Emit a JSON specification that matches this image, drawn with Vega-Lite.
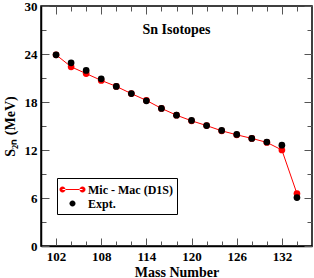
{
  "$schema": "https://vega.github.io/schema/vega-lite/v6.json",
  "width": 271,
  "height": 240,
  "autosize": "none",
  "padding": {"left": 41, "top": 6, "right": 2, "bottom": 32},
  "config": {
    "font": "Liberation Serif",
    "view": {"stroke": "black", "strokeWidth": 1.5},
    "axis": {
      "domainColor": "black",
      "domainWidth": 1.5,
      "tickColor": "#555",
      "tickWidth": 1,
      "grid": false,
      "labelFont": "Liberation Serif",
      "labelFontWeight": "bold",
      "labelFontSize": 13,
      "labelColor": "black",
      "labelFlush": false,
      "labelOverlap": false,
      "titleFont": "Liberation Serif",
      "titleFontWeight": "bold",
      "titleFontSize": 14,
      "titleColor": "black"
    }
  },
  "data": {
    "values": [
      {"A": 102, "S2n": 23.9, "series": "Mic - Mac (D1S)"},
      {"A": 104, "S2n": 22.4, "series": "Mic - Mac (D1S)"},
      {"A": 106, "S2n": 21.55, "series": "Mic - Mac (D1S)"},
      {"A": 108, "S2n": 20.7, "series": "Mic - Mac (D1S)"},
      {"A": 110, "S2n": 19.95, "series": "Mic - Mac (D1S)"},
      {"A": 112, "S2n": 19.05, "series": "Mic - Mac (D1S)"},
      {"A": 114, "S2n": 18.2, "series": "Mic - Mac (D1S)"},
      {"A": 116, "S2n": 17.2, "series": "Mic - Mac (D1S)"},
      {"A": 118, "S2n": 16.35, "series": "Mic - Mac (D1S)"},
      {"A": 120, "S2n": 15.65, "series": "Mic - Mac (D1S)"},
      {"A": 122, "S2n": 15.05, "series": "Mic - Mac (D1S)"},
      {"A": 124, "S2n": 14.4, "series": "Mic - Mac (D1S)"},
      {"A": 126, "S2n": 13.9, "series": "Mic - Mac (D1S)"},
      {"A": 128, "S2n": 13.45, "series": "Mic - Mac (D1S)"},
      {"A": 130, "S2n": 12.95, "series": "Mic - Mac (D1S)"},
      {"A": 132, "S2n": 12.0, "series": "Mic - Mac (D1S)"},
      {"A": 134, "S2n": 6.55, "series": "Mic - Mac (D1S)"},
      {"A": 102, "S2n": 23.9, "series": "Expt."},
      {"A": 104, "S2n": 22.9, "series": "Expt."},
      {"A": 106, "S2n": 21.95, "series": "Expt."},
      {"A": 108, "S2n": 20.9, "series": "Expt."},
      {"A": 110, "S2n": 19.95, "series": "Expt."},
      {"A": 112, "S2n": 19.05, "series": "Expt."},
      {"A": 114, "S2n": 18.15, "series": "Expt."},
      {"A": 116, "S2n": 17.2, "series": "Expt."},
      {"A": 118, "S2n": 16.35, "series": "Expt."},
      {"A": 120, "S2n": 15.7, "series": "Expt."},
      {"A": 122, "S2n": 15.05, "series": "Expt."},
      {"A": 124, "S2n": 14.45, "series": "Expt."},
      {"A": 126, "S2n": 13.95, "series": "Expt."},
      {"A": 128, "S2n": 13.45, "series": "Expt."},
      {"A": 130, "S2n": 13.0, "series": "Expt."},
      {"A": 132, "S2n": 12.6, "series": "Expt."},
      {"A": 134, "S2n": 6.05, "series": "Expt."}
    ]
  },
  "layer": [
    {
      "transform": [{"filter": "datum.series == 'Mic - Mac (D1S)'"}],
      "mark": {"type": "line", "color": "#ff0000", "strokeWidth": 1},
      "encoding": {
        "x": {"field": "A", "type": "quantitative", "scale": {"domain": [100, 136], "nice": false, "zero": false},
          "axis": {"orient": "bottom", "title": "Mass Number", "values": [102,104,106,108,110,112,114,116,118,120,122,124,126,128,130,132,134],
            "labelExpr": "datum.value % 6 == 0 ? datum.label : ''",
            "tickSize": {"condition": {"test": "datum.value % 6 == 0", "value": -8}, "value": -5},
            "labelPadding": 12, "titleBaseline": "alphabetic", "titleY": 30}},
        "y": {"field": "S2n", "type": "quantitative", "scale": {"domain": [0, 30], "nice": false, "zero": false},
          "axis": {"orient": "left", "title": "S₂ₙ (MeV)", "values": [0,3,6,9,12,15,18,21,24,27,30],
            "labelExpr": "datum.value % 6 == 0 ? datum.label : ''",
            "tickSize": {"condition": {"test": "datum.value % 6 == 0", "value": -8}, "value": -5},
            "labelPadding": 12, "titlePadding": 7}}
      }
    },
    {
      "transform": [{"filter": "datum.series == 'Mic - Mac (D1S)'"}],
      "mark": {"type": "point", "filled": true, "color": "#ff0000", "size": 45, "opacity": 1},
      "encoding": {
        "x": {"field": "A", "type": "quantitative",
          "axis": {"orient": "top", "title": null, "labels": false, "domain": false, "values": [102,104,106,108,110,112,114,116,118,120,122,124,126,128,130,132,134],
            "tickSize": {"condition": {"test": "datum.value % 6 == 0", "value": -8}, "value": -5}}},
        "y": {"field": "S2n", "type": "quantitative",
          "axis": {"orient": "right", "title": null, "labels": false, "domain": false, "values": [0,3,6,9,12,15,18,21,24,27,30],
            "tickSize": {"condition": {"test": "datum.value % 6 == 0", "value": -8}, "value": -5}}}
      }
    },
    {
      "transform": [{"filter": "datum.series == 'Expt.'"}],
      "mark": {"type": "point", "filled": true, "color": "black", "size": 45, "opacity": 1},
      "encoding": {
        "x": {"field": "A", "type": "quantitative", "axis": null},
        "y": {"field": "S2n", "type": "quantitative", "axis": null}
      }
    },
    {
      "transform": [{"filter": "datum.A < 0"}],
      "mark": {"type": "point", "filled": true, "opacity": 1},
      "encoding": {
        "x": {"field": "A", "type": "quantitative", "axis": null},
        "y": {"field": "S2n", "type": "quantitative", "axis": null},
        "color": {"field": "series", "type": "nominal",
          "scale": {"domain": ["Mic - Mac (D1S)", "Expt."], "range": ["#ff0000", "black"]},
          "legend": {"title": null, "orient": "none", "legendX": 16, "legendY": 172,
            "padding": 4, "fillColor": "white", "strokeColor": "black",
            "symbolSize": 225, "symbolOpacity": 1, "symbolStrokeWidth": 0, "symbolOffset": 4,
            "labelOffset": 8, "rowPadding": 0,
            "labelFont": "Liberation Serif", "labelFontWeight": "bold", "labelFontSize": 12, "labelColor": "black"}},
        "shape": {"field": "series", "type": "nominal",
          "scale": {"domain": ["Mic - Mac (D1S)", "Expt."],
            "range": ["M-1.333,-0.067L1.333,-0.067L1.333,0.067L-1.333,0.067Z M-1.733,0A0.4,0.4 0 1,0 -0.933,0A0.4,0.4 0 1,0 -1.733,0Z M0.933,0A0.4,0.4 0 1,0 1.733,0A0.4,0.4 0 1,0 0.933,0Z",
                      "M-0.4,0A0.4,0.4 0 1,0 0.4,0A0.4,0.4 0 1,0 -0.4,0Z"]}}
      }
    },
    {
      "data": {"values": [{"label": "Sn Isotopes"}]},
      "mark": {"type": "text", "font": "Liberation Serif", "fontWeight": "bold", "fontSize": 14, "color": "black", "baseline": "middle", "align": "center"},
      "encoding": {
        "text": {"field": "label"},
        "x": {"datum": 118, "type": "quantitative", "axis": null},
        "y": {"datum": 27, "type": "quantitative", "axis": null}
      }
    }
  ]
}
